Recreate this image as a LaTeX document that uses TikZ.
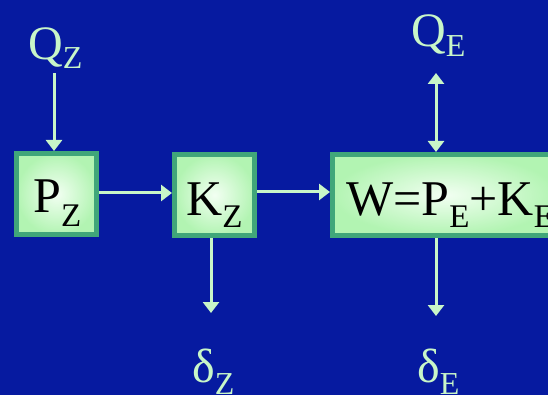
\documentclass[tikz,border=0pt]{standalone}
\usepackage{fontspec}
\setmainfont{Liberation Serif}
\usetikzlibrary{arrows.meta}
\definecolor{bg}{RGB}{6,26,160}
\definecolor{txt}{RGB}{200,246,200}
\definecolor{bord}{RGB}{64,166,122}
\definecolor{fin}{RGB}{242,255,242}
\definecolor{fout}{RGB}{178,244,178}
\newcommand{\bigf}{\fontsize{48}{48}\selectfont}
\newcommand{\boxf}{\fontsize{50}{50}\selectfont}
\newcommand{\subf}{\fontsize{32}{32}\selectfont}
\newcommand{\boxsubf}{\fontsize{33}{33}\selectfont}
\newcommand{\lab}[3]{#1\raisebox{-#3pt}{\subf #2}}
\newcommand{\blab}[3]{#1\raisebox{-#3pt}{\boxsubf #2}}
\begin{document}
\begin{tikzpicture}[x=1pt,y=-1pt,
  boxst/.style={draw=bord, line width=5pt, inner sep=0pt, inner color=fin, outer color=fout},
  lbl/.style={text=txt, inner sep=0pt, anchor=base west, font=\bigf},
  inlbl/.style={text=black, inner sep=0pt, anchor=base west, font=\boxf},
  arr/.style={draw=txt, line width=3pt, -{Triangle[width=16pt,length=11pt]}},
  darr/.style={draw=txt, line width=3pt, {Triangle[width=16pt,length=11pt]}-{Triangle[width=16pt,length=11pt]}}]
\useasboundingbox (0,0) rectangle (548,395);
\fill[bg] (0,0) rectangle (548,395);
\clip (0,0) rectangle (548,395);
% boxes
\node[boxst, minimum width=80pt, minimum height=81pt] (pz) at (56.5,194) {};
\node[boxst, minimum width=80pt, minimum height=81pt] (kz) at (214.5,195) {};
\node[boxst, minimum width=225pt, minimum height=81pt] (w) at (445,195) {};
% labels inside boxes
\node[inlbl] (pzl) at (33,212) {\blab{P}{Z}{14}};
\node[inlbl] (kzl) at (186,215) {\blab{K}{Z}{13}};
\node[inlbl] (wl) at (346,215) {W=\blab{P}{E}{12}+\blab{K}{E}{12}};
% outer labels
\node[lbl] (qz) at (28,60) {\lab{Q}{Z}{9}};
\node[lbl] (qe) at (411,47) {\lab{Q}{E}{10}};
\node[lbl] (dz) at (192,382) {\lab{δ}{Z}{12}};
\node[lbl] (de) at (417,382) {\lab{δ}{E}{12}};
% connector ends
\coordinate (qzt) at (54,73);
\coordinate (qet) at (436,73);
\coordinate (kzb) at (211,313);
\coordinate (wb) at (436,316);
% connectors
\draw[arr] (qzt) -- (qzt |- pz.north);
\draw[darr] (qet) -- (qet |- w.north);
\draw[arr] (pz.east |- 0,193) -- (kz.west |- 0,193);
\draw[arr] (kz.east |- 0,192) -- (w.west |- 0,192);
\draw[arr] (kzb |- kz.south) -- (kzb);
\draw[arr] (wb |- w.south) -- (wb);
\end{tikzpicture}
\end{document}
